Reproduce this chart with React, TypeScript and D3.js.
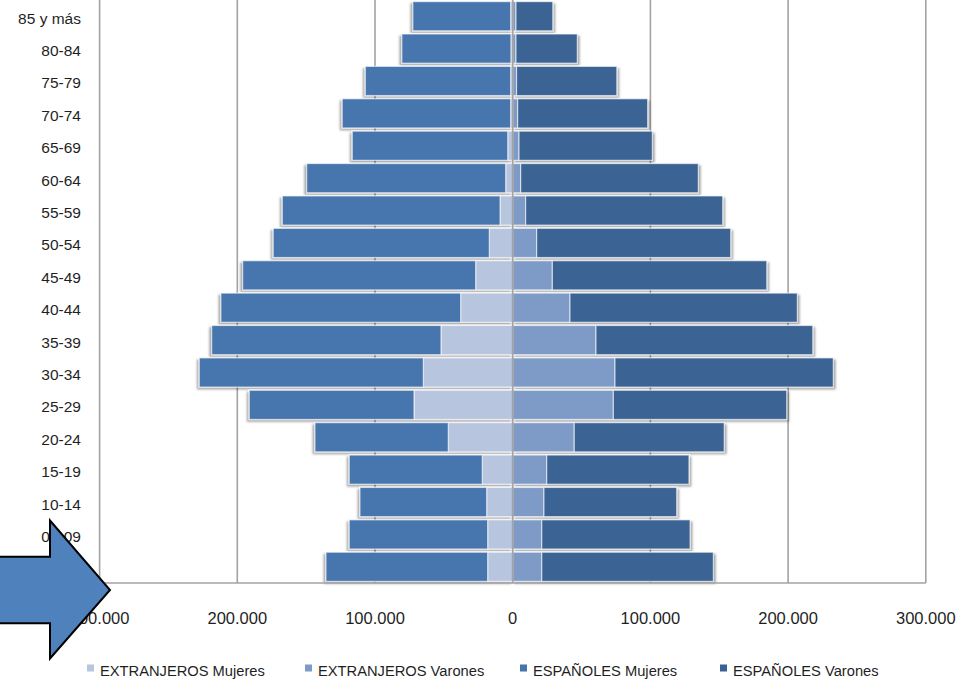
import React from "react";
import * as d3 from "d3";

const categories = ["85 y más","80-84","75-79","70-74","65-69","60-64","55-59","50-54","45-49","40-44","35-39","30-34","25-29","20-24","15-19","10-14","05-09","00-04"];
const extranjerosMujeres = [1500,1300,1500,1500,3600,5100,9200,17000,26900,37800,52100,64900,71700,46800,22100,18900,18200,18200];
const espanolesMujeres = [71000,79200,105500,122300,112900,144500,158100,156900,169200,174100,166500,162700,119600,96800,96600,92000,100500,117400];
const extranjerosVarones = [2400,2400,2800,3600,4600,5800,9400,17400,28800,41600,60500,74300,73100,44700,24700,22700,21100,21100];
const espanolesVarones = [26700,44500,72800,94400,96800,129000,143100,140900,155700,165100,157400,158500,125900,108900,103300,96400,107700,124600];
const xTicks = [-300000,-200000,-100000,0,100000,200000,300000];
const seriesNames = ["EXTRANJEROS Mujeres","EXTRANJEROS Varones","ESPAÑOLES Mujeres","ESPAÑOLES Varones"];
const seriesKeys = ["extM","extV","espM","espV"];
const seriesColors = ["#B8C5DE","#7E9BC8","#4675AE","#3A6394"];

const W = 961, H = 679;
const FONT = "'Liberation Sans', Arial, sans-serif";

export default function App() {
  const x = d3.scaleLinear().domain([-300000, 300000]).range([99.6, 925.8]);
  const y = d3.scaleBand<string>().domain(categories).range([0, 583]).paddingInner(0.1).paddingOuter(0.05);
  const rows = categories.map((c, i) => ({
    cat: c,
    extM: -extranjerosMujeres[i],
    espM: -espanolesMujeres[i],
    extV: extranjerosVarones[i],
    espV: espanolesVarones[i],
  }));
  const stack = d3.stack<any>().keys(["extM", "espM", "extV", "espV"]).offset(d3.stackOffsetDiverging);
  const stacked = stack(rows);
  const colorOf = (k: string) => seriesColors[seriesKeys.indexOf(k)];
  const fmt = d3.formatLocale({ decimal: ",", thousands: ".", grouping: [3], currency: ["", "€"] }).format(",");
  const leftSeries = stacked.filter(s => s.key === "extM" || s.key === "espM");
  const rightSeries = stacked.filter(s => s.key === "extV" || s.key === "espV");
  const legendX = [87, 305, 520, 720];
  const plotTop = -5, plotBottom = 583;

  const renderSeries = (ss: any[]) =>
    ss.map(s => (
      <g key={s.key}>
        {s.map((d: any, i: number) => {
          const x0 = x(Math.min(d[0], d[1]));
          const x1 = x(Math.max(d[0], d[1]));
          return (
            <rect key={i} x={x0} y={y(categories[i])} width={Math.max(0, x1 - x0)} height={y.bandwidth()}
              fill={colorOf(s.key)} stroke="rgba(255,255,255,0.6)" strokeWidth={1.2} />
          );
        })}
      </g>
    ));

  return (
    <svg width={W} height={H} style={{ position: "absolute", left: 0, top: 0, background: "#fff" }} fontFamily={FONT}>
      <defs>
        <filter id="shL" x="-10%" y="-10%" width="120%" height="130%">
          <feDropShadow dx={-2} dy={2} stdDeviation={1.2} floodColor="#000" floodOpacity={0.35} />
        </filter>
        <filter id="shR" x="-10%" y="-10%" width="120%" height="130%">
          <feDropShadow dx={2} dy={2} stdDeviation={1.2} floodColor="#000" floodOpacity={0.35} />
        </filter>
      </defs>
      <rect x={0} y={0} width={W} height={H} fill="#fff" />
      {xTicks.filter(t => t !== 0).map(t => (
        <line key={t} x1={x(t)} x2={x(t)} y1={plotTop} y2={plotBottom} stroke="#A3A3A3" strokeWidth={1.6} />
      ))}
      <g filter="url(#shL)">{renderSeries(leftSeries)}</g>
      <g filter="url(#shR)">{renderSeries(rightSeries)}</g>
      <line x1={x(0)} x2={x(0)} y1={plotTop} y2={plotBottom} stroke="#A3A3A3" strokeWidth={1.8} />
      <line x1={x(-300000)} x2={x(300000)} y1={plotBottom} y2={plotBottom} stroke="#A3A3A3" strokeWidth={1.6} />
      {categories.map(c => (
        <text key={c} x={81} y={(y(c) as number) + y.bandwidth() / 2 + 2} textAnchor="end" dominantBaseline="central"
          fontSize={15.5} fill="#1f1f1f">{c}</text>
      ))}
      {xTicks.map(t => (
        <text key={t} x={x(t)} y={624} textAnchor="middle" fontSize={16.5} fill="#1f1f1f">{fmt(Math.abs(t))}</text>
      ))}
      {seriesNames.map((n, i) => (
        <g key={n}>
          <rect x={legendX[i]} y={664.5} width={7} height={7} fill={seriesColors[i]} />
          <text x={legendX[i] + 13} y={676} fontSize={14.7} fill="#1f1f1f">{n}</text>
        </g>
      ))}
      <path d="M -5 556.7 L 50 556.7 L 50 520.5 L 110 590 L 50 658.5 L 50 623.3 L -5 623.3 Z"
        fill="#4F81BD" stroke="#000" strokeWidth={2} strokeLinejoin="miter" />
    </svg>
  );
}
